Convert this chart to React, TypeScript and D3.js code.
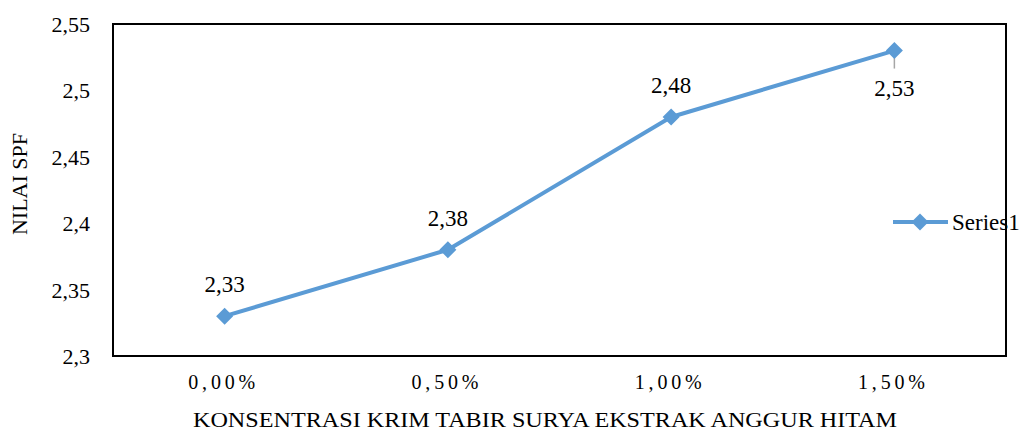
import React from "react";
import * as d3 from "d3";

const categories = ["0,00%", "0,50%", "1,00%", "1,50%"];
const values = [2.33, 2.38, 2.48, 2.53];
const valueLabels = ["2,33", "2,38", "2,48", "2,53"];
const yTicks = [2.3, 2.35, 2.4, 2.45, 2.5, 2.55];
const yTickLabels = ["2,3", "2,35", "2,4", "2,45", "2,5", "2,55"];
const seriesName = "Series1";
const xTitle = "KONSENTRASI KRIM TABIR SURYA EKSTRAK ANGGUR HITAM";
const yTitle = "NILAI SPF";

const W = 1021, H = 431;
const L = 113, R = 1006, T = 24, B = 356;
const BLUE = "#5B9BD5";
const FONT = "Times New Roman, Liberation Serif, Tinos, DejaVu Serif, serif";

export default function App() {
  const x = d3.scaleBand<string>().domain(categories).range([L, R]);
  const y = d3.scaleLinear().domain([2.3, 2.55]).range([B, T]);
  const cx = (i: number) => (x(categories[i]) as number) + x.bandwidth() / 2;
  const line = d3.line<number>().x((_, i) => cx(i)).y((d) => y(d));
  const diamond = (px: number, py: number, r: number) =>
    `M${px},${py - r}L${px + r},${py}L${px},${py + r}L${px - r},${py}Z`;
  const last = values.length - 1;
  const ts: React.CSSProperties = { fontFamily: FONT };
  return (
    <svg width={W} height={H} style={{ position: "absolute", left: 0, top: 0, background: "#fff", fontFamily: FONT }}>
      <rect x={L} y={T} width={R - L} height={B - T} fill="none" stroke="#000" strokeWidth={2} />
      {yTicks.map((t, i) => (
        <text key={t} style={ts} x={90} y={y(t) + 8} textAnchor="end" fontSize={22} fill="#000">
          {yTickLabels[i]}
        </text>
      ))}
      {categories.map((c, i) => (
        <text key={c} style={ts} x={cx(i) - 3 + 2} y={389} textAnchor="middle" fontSize={20} letterSpacing={3.8} fill="#000">
          {c}
        </text>
      ))}
      <text style={ts} x={193} y={427} fontSize={22} textLength={704} lengthAdjust="spacingAndGlyphs" fill="#000">
        {xTitle}
      </text>
      <text style={ts} transform={`translate(27,184) rotate(-90)`} textAnchor="middle" fontSize={22} fill="#000">
        {yTitle}
      </text>
      <line x1={cx(last)} x2={cx(last)} y1={y(values[last])} y2={y(values[last]) + 18} stroke="#a6a6a6" strokeWidth={1.5} />
      <path d={line(values) as string} fill="none" stroke={BLUE} strokeWidth={4} strokeLinejoin="round" />
      {values.map((v, i) => (
        <path key={i} d={diamond(cx(i), y(v), 8.5)} fill={BLUE} />
      ))}
      {values.map((v, i) => (
        <text key={"l" + i} style={ts} x={cx(i)} y={i === last ? y(v) + 45 : y(v) - 24} textAnchor="middle" fontSize={23} fill="#000">
          {valueLabels[i]}
        </text>
      ))}
      <line x1={893} x2={948} y1={222} y2={222} stroke={BLUE} strokeWidth={4} />
      <path d={diamond(920, 222, 8.5)} fill={BLUE} />
      <text style={ts} x={952} y={230} fontSize={23} fill="#000">{seriesName}</text>
    </svg>
  );
}
